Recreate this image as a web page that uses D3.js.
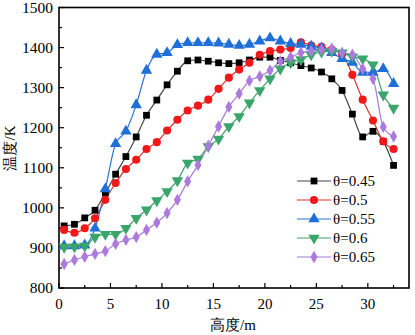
<!DOCTYPE html>
<html>
<head>
<meta charset="utf-8">
<script src="https://cdn.jsdelivr.net/npm/d3@7"></script>
<style>
  body { margin: 0; background: #fff; }
  text { font-family: "Liberation Serif", "Times New Roman", serif; fill: #000; }
</style>
</head>
<body>
<script>
// heights (m), one point per metre
const heights = d3.range(33).map(i => i + 0.5);

const seriesNames = ['θ=0.45', 'θ=0.5', 'θ=0.55', 'θ=0.6', 'θ=0.65'];

const t045 = [955, 959, 975, 994, 1037, 1084, 1128, 1177, 1231, 1269, 1307, 1341, 1367, 1369, 1366, 1362, 1360,
              1362, 1369, 1376, 1376, 1368, 1362, 1355, 1349, 1339, 1322, 1293, 1234, 1177, 1191, 1166, 1106];
const t050 = [945, 938, 949, 974, 1020, 1062, 1097, 1120, 1147, 1164, 1193, 1220, 1243, 1255, 1270, 1297, 1325,
              1345, 1362, 1382, 1391, 1395, 1399, 1413, 1405, 1402, 1395, 1384, 1332, 1270, 1218, 1166, 1147];
const t055 = [905, 905, 907, 949, 1047, 1160, 1191, 1257, 1343, 1383, 1387, 1407, 1412, 1412, 1412, 1411, 1408,
              1405, 1408, 1416, 1424, 1416, 1410, 1408, 1403, 1399, 1387, 1372, 1363, 1338, 1338, 1347, 1310];
const t060 = [902, 903, 905, 927, 934, 934, 949, 974, 995, 1018, 1041, 1068, 1112, 1122, 1153, 1172, 1203,
              1228, 1262, 1293, 1322, 1347, 1362, 1370, 1382, 1389, 1391, 1387, 1377, 1372, 1357, 1282, 1249];
const t065 = [860, 870, 878, 885, 892, 910, 920, 927, 945, 963, 987, 1020, 1066, 1107, 1155, 1203, 1252,
              1285, 1317, 1328, 1343, 1366, 1376, 1387, 1391, 1395, 1397, 1387, 1382, 1347, 1322, 1202, 1178];

const xTicks = [0, 5, 10, 15, 20, 25, 30];
const yTicks = [800, 900, 1000, 1100, 1200, 1300, 1400, 1500];

const colors = ['#000000', '#f01818', '#1f6fd8', '#3aa56a', '#ac7ade'];
const lineColors = ['#444444', '#e03030', '#2a74d0', '#3f9e6c', '#a67ad8'];
const symbols = [d3.symbolSquare, d3.symbolCircle, d3.symbolTriangle, d3.symbolTriangle, d3.symbolDiamond];
const symSizes = [46, 52, 56, 56, 44];
const symRot = [0, 0, 0, 180, 0];

const W = 415, H = 335;
const plot = {left: 59, right: 409, top: 7.5, bottom: 288};

const svg = d3.select('body').append('svg')
    .attr('width', W)
    .attr('height', H);

const x = d3.scaleLinear().domain([0, 34]).range([plot.left, plot.right]);
const y = d3.scaleLinear().domain([800, 1500]).range([plot.bottom, plot.top]);

// minor + major ticks, pointing inward
const g = svg.append('g');
d3.range(0, 34.01, 2.5).forEach(v => {
    const major = v % 5 === 0;
    g.append('line')
        .attr('x1', x(v)).attr('x2', x(v))
        .attr('y1', plot.bottom).attr('y2', plot.bottom - (major ? 5 : 3))
        .attr('stroke', '#000').attr('stroke-width', 1.2);
});
d3.range(800, 1500.01, 50).forEach(v => {
    const major = v % 100 === 0;
    g.append('line')
        .attr('x1', plot.left).attr('x2', plot.left + (major ? 5 : 3))
        .attr('y1', y(v)).attr('y2', y(v))
        .attr('stroke', '#000').attr('stroke-width', 1.2);
});

g.selectAll('.xt').data(xTicks).join('text')
    .attr('x', d => x(d))
    .attr('y', 309)
    .attr('text-anchor', 'middle')
    .attr('font-size', 15)
    .text(d => d);

g.selectAll('.yt').data(yTicks).join('text')
    .attr('x', 53)
    .attr('y', d => y(d) + 5)
    .attr('text-anchor', 'end')
    .attr('font-size', 15.5)
    .text(d => d);

// frame
svg.append('rect')
    .attr('x', plot.left).attr('y', plot.top)
    .attr('width', plot.right - plot.left)
    .attr('height', plot.bottom - plot.top)
    .attr('fill', 'none')
    .attr('stroke', '#000')
    .attr('stroke-width', 1.6);

// axis titles
svg.append('text')
    .attr('x', 233).attr('y', 330)
    .attr('text-anchor', 'middle')
    .attr('font-size', 15)
    .text('高度/m');

svg.append('text')
    .attr('transform', 'translate(15,148) rotate(-90)')
    .attr('text-anchor', 'middle')
    .attr('font-size', 15)
    .text('温度/K');

// series
const allSeries = [t045, t050, t055, t060, t065];
const line = d3.line()
    .x((d, i) => x(heights[i]))
    .y(d => y(d))
    .curve(d3.curveMonotoneX);

allSeries.forEach((vals, k) => {
    svg.append('path')
        .datum(vals)
        .attr('d', line)
        .attr('fill', 'none')
        .attr('stroke', lineColors[k])
        .attr('stroke-width', 1.2);
});

allSeries.forEach((vals, k) => {
    const sym = d3.symbol().type(symbols[k]).size(symSizes[k]);
    svg.append('g').selectAll('path')
        .data(vals)
        .join('path')
        .attr('d', sym)
        .attr('transform', (d, i) => `translate(${x(heights[i])},${y(d)}) rotate(${symRot[k]})`)
        .attr('fill', colors[k]);
});

// legend
const legend = svg.append('g');
seriesNames.forEach((name, k) => {
    const ly = 181 + k * 19;
    legend.append('line')
        .attr('x1', 297).attr('x2', 331)
        .attr('y1', ly).attr('y2', ly)
        .attr('stroke', lineColors[k])
        .attr('stroke-width', 1.2);
    legend.append('path')
        .attr('d', d3.symbol().type(symbols[k]).size(symSizes[k])())
        .attr('transform', `translate(314,${ly}) rotate(${symRot[k]})`)
        .attr('fill', colors[k]);
    legend.append('text')
        .attr('x', 333)
        .attr('y', ly + 5)
        .attr('font-size', 15)
        .text(name);
});
</script>
</body>
</html>
